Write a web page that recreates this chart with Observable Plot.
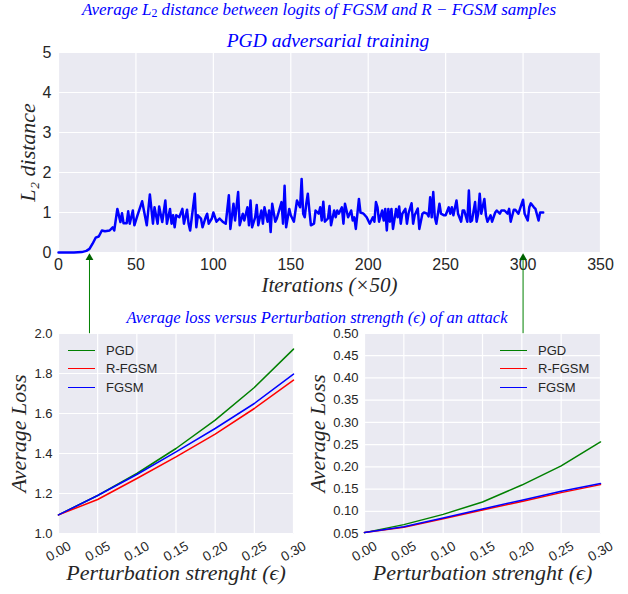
<!DOCTYPE html>
<html><head><meta charset="utf-8">
<script src="https://cdn.jsdelivr.net/npm/d3@7"></script>
<script src="https://cdn.jsdelivr.net/npm/@observablehq/plot@0.6"></script>
<style>
body{margin:0;background:#fff;}
#wrap{position:relative;width:628px;height:594px;overflow:hidden;font-family:"Liberation Sans",Arial,sans-serif;}
.ttl{position:absolute;color:#0000ff;font-family:"Liberation Serif",serif;font-style:italic;white-space:nowrap;transform:translate(-50%,-50%);line-height:1;}
.ttl sub{font-size:70%;font-style:normal;vertical-align:-0.25em;line-height:0;}
.leg{position:absolute;font-size:13px;color:#262626;line-height:1;}
.leg .row{height:18.5px;display:flex;align-items:center;}
.leg .sw{display:inline-block;width:27px;height:0;border-top:1.6px solid;margin-right:11px;}
</style></head>
<body><div id="wrap"></div>
<script>
// ---------- data ----------
const iterations = [0,5,10,15,18,20,22,24,26,28,30,33,35,36,38,40,41,42,44,45,46,48,49,51,54,56,57,59,61,62,64,65,67,69,70,72,73,74,75,76,78,80,81,83,84,85,86,88,89,90,92,93,95,96,97,99,100,102,104,106,108,110,111,113,114,116,117,119,120,122,123,124,125,127,128,129,131,132,133,135,136,137,138,140,141,144,145,146,147,149,150,152,154,156,157,158,159,160,161,162,163,165,166,168,169,170,171,172,174,175,176,178,179,180,181,183,184,185,187,189,190,191,192,194,195,197,199,201,203,204,205,206,207,209,210,211,212,213,214,215,216,218,219,220,221,222,224,225,226,228,229,230,232,233,235,236,238,239,240,241,242,243,244,246,247,249,250,252,253,254,255,257,258,260,261,262,264,265,266,267,269,270,271,272,273,275,276,277,279,280,282,283,285,286,288,290,291,292,294,295,297,298,300,301,303,304,305,307,308,310,311,313];
const l2Distance = [0,0,0,0.01,0.04,0.09,0.22,0.37,0.4,0.55,0.53,0.55,0.63,0.55,1.09,0.76,0.98,0.73,0.73,1.03,0.72,1.05,0.68,0.93,1.28,0.88,0.68,1.45,0.72,1.13,0.72,1.15,0.76,1.3,0.72,1.09,0.72,0.93,0.63,0.93,0.88,1.09,0.72,1.07,0.72,0.55,0.85,1.47,0.63,0.93,0.85,0.63,0.88,0.97,0.72,0.85,1.0,0.77,0.85,0.77,0.72,1.43,0.59,1.22,0.8,1.51,0.68,0.97,0.8,1.13,0.68,1.3,0.63,0.88,1.19,0.68,1.05,0.72,1.13,0.77,1.05,0.51,1.22,0.77,0.85,1.26,0.72,1.67,0.63,1.09,0.93,0.77,1.3,1.13,1.84,0.97,0.88,1.22,1.47,1.05,0.68,0.72,1.05,0.97,1.13,0.8,1.27,0.77,0.85,1.16,0.68,1.05,0.88,1.05,0.97,1.13,0.72,1.22,0.88,1.05,0.8,0.88,0.59,1.34,1.0,0.97,0.88,0.72,0.88,0.77,1.26,1.13,0.77,1.05,0.8,1.09,0.55,1.09,0.77,1.09,0.59,1.09,0.88,1.15,0.72,0.97,1.09,0.72,0.97,1.23,0.72,0.93,1.1,0.59,0.97,1.0,0.97,0.9,1.38,0.88,1.51,0.88,0.72,1.22,0.97,0.93,0.93,1.13,0.97,1.13,0.93,1.3,0.97,0.77,1.05,1.05,0.77,1.55,0.77,0.8,1.26,0.77,0.97,1.47,0.97,1.34,0.93,0.77,0.93,0.77,1.0,1.05,0.97,1.05,1.05,0.97,1.09,0.77,1.07,1.07,0.97,1.09,1.32,0.97,0.8,1.13,1.23,1.13,1.09,0.8,1.0,1.0];
const arrowIterations = [20, 300];

const epsilon = [0, 0.05, 0.10, 0.15, 0.20, 0.25, 0.30];
const seriesNames = ["PGD", "R-FGSM", "FGSM"];
const seriesColors = ["#008000", "#ff0000", "#0000ff"];
const leftPGD   = [1.093, 1.19, 1.30, 1.425, 1.567, 1.73, 1.922];
const leftRFGSM = [1.093, 1.17, 1.275, 1.383, 1.497, 1.625, 1.767];
const leftFGSM  = [1.093, 1.19, 1.295, 1.408, 1.525, 1.65, 1.797];
const rightPGD   = [0.052, 0.070, 0.093, 0.121, 0.159, 0.202, 0.256];
const rightRFGSM = [0.052, 0.064, 0.083, 0.103, 0.122, 0.142, 0.160];
const rightFGSM  = [0.052, 0.065, 0.085, 0.105, 0.125, 0.145, 0.1625];

const topXTicks = [0, 50, 100, 150, 200, 250, 300, 350];
const topYTicks = [0, 1, 2, 3, 4, 5];
const leftYTicks = [1.0, 1.2, 1.4, 1.6, 1.8, 2.0];
const rightYTicks = [0.05, 0.10, 0.15, 0.20, 0.25, 0.30, 0.35, 0.40, 0.45, 0.50];
const epsTicks = [0, 0.05, 0.10, 0.15, 0.20, 0.25, 0.30];

const mainTitle = 'Average L<sub>2</sub> distance between logits of FGSM and R − FGSM samples';
const topTitle = 'PGD adversarial training';
const midTitle = 'Average loss versus Perturbation strength (ϵ) of an attack';
const topXLabel = "Iterations (×50)";
const topYLabel = "L₂ distance";
const lossLabel = "Average Loss";
const epsLabel = "Perturbation strenght (ϵ)";

// ---------- helpers ----------
const BG = "#eaeaf2";
const INK = "#262626";
const SANS = "Liberation Sans, Arial, sans-serif";
const SERIF = "Liberation Serif, DejaVu Serif, serif";
const wrap = document.getElementById("wrap");
function place(el, left, top) {
  el.style.position = "absolute"; el.style.left = left + "px"; el.style.top = top + "px";
  wrap.appendChild(el);
}

function lossChart(pgd, rfgsm, fgsm, yDomain, yTicks, yFmt, marginLeft, width, yLabelDx) {
  const rows = [];
  [pgd, rfgsm, fgsm].forEach((arr, k) => epsilon.forEach((e, i) => rows.push({e, v: arr[i], s: seriesNames[k]})));
  return Plot.plot({
    width, height: 294, marginLeft, marginRight: 28, marginTop: 33, marginBottom: 61,
    style: {background: "transparent", fontSize: "13px", fontFamily: SANS, color: INK, overflow: "visible"},
    x: {domain: [0, 0.3], axis: null},
    y: {domain: yDomain, ticks: yTicks, tickFormat: d3.format(yFmt), tickSize: 0, tickPadding: 6, label: null},
    color: {domain: seriesNames, range: seriesColors},
    marks: [
      Plot.frame({fill: BG, stroke: null}),
      Plot.ruleX(epsTicks, {stroke: "white", strokeWidth: 1.2}),
      Plot.ruleY(yTicks, {stroke: "white", strokeWidth: 1.2}),
      Plot.line(rows, {x: "e", y: "v", z: "s", stroke: "s", strokeWidth: 1.5}),
      Plot.text(epsTicks, {x: d => d, y: yDomain[0], dy: 18, rotate: -30, text: d3.format(".2f"), textAnchor: "middle", fontSize: 13.5, fill: INK, fontFamily: SANS}),
      Plot.text([epsLabel], {text: d => d, frameAnchor: "bottom", dy: 46, textAnchor: "middle", fontSize: 22, fontStyle: "italic", fontFamily: SERIF, fill: INK}),
      Plot.text([lossLabel], {text: d => d, frameAnchor: "left", dx: yLabelDx, rotate: -90, textAnchor: "middle", fontSize: 22, fontStyle: "italic", fontFamily: SERIF, fill: INK})
    ]
  });
}

// bottom charts
place(lossChart(leftPGD, leftRFGSM, leftFGSM, [1.0, 2.0], leftYTicks, ".1f", 58, 321, -40), 0, 300);
place(lossChart(rightPGD, rightRFGSM, rightFGSM, [0.05, 0.5], rightYTicks, ".2f", 64, 328, -47), 300, 300);

// top chart (drawn over the others, transparent)
const topData = iterations.map((x, i) => ({x, y: l2Distance[i]}));
const topChart = Plot.plot({
  width: 628, height: 340, marginLeft: 58, marginRight: 28, marginTop: 52, marginBottom: 88,
  style: {background: "transparent", fontSize: "16px", fontFamily: SANS, color: INK, overflow: "visible"},
  x: {domain: [0, 350], ticks: topXTicks, tickFormat: d3.format("d"), tickSize: 0, tickPadding: 6, label: null},
  y: {domain: [0, 5], ticks: topYTicks, tickFormat: d3.format("d"), tickSize: 0, tickPadding: 7, label: null},
  marks: [
    Plot.frame({fill: BG, stroke: null}),
    Plot.ruleX(topXTicks, {stroke: "white", strokeWidth: 1.2}),
    Plot.ruleY(topYTicks, {stroke: "white", strokeWidth: 1.2}),
    Plot.line(topData, {x: "x", y: "y", stroke: "#0000ff", strokeWidth: 2.5, strokeLinejoin: "round"}),
    Plot.ruleX(arrowIterations, {x: d => d, y1: -2.03, y2: -0.2, stroke: "#008000", strokeWidth: 1}),
    Plot.dot(arrowIterations, {x: d => d, y: -0.13, symbol: "triangle", fill: "#006400", stroke: null, r: 2.9}),
    Plot.text([topXLabel], {text: d => d, frameAnchor: "bottom", dy: 39, textAnchor: "middle", fontSize: 21, fontStyle: "italic", fontFamily: SERIF, fill: INK}),
    Plot.text([topYLabel], {text: d => d, frameAnchor: "left", dx: -31, rotate: -90, textAnchor: "middle", fontSize: 22, fontStyle: "italic", fontFamily: SERIF, fill: INK})
  ]
});
place(topChart, 0, 0);

// titles
function title(html, cx, cy, size) {
  const d = document.createElement("div");
  d.className = "ttl"; d.innerHTML = html;
  d.style.left = cx + "px"; d.style.top = cy + "px"; d.style.fontSize = size + "px";
  wrap.appendChild(d);
}
title(mainTitle, 319, 9, 17);
title(topTitle, 328, 41, 19.5);
title(midTitle, 317, 318, 16.5);

// legends
function legend(left, top) {
  const d = document.createElement("div");
  d.className = "leg";
  seriesNames.forEach((n, i) => {
    const r = document.createElement("div"); r.className = "row";
    const s = document.createElement("span"); s.className = "sw"; s.style.borderColor = seriesColors[i];
    r.appendChild(s); r.appendChild(document.createTextNode(n));
    d.appendChild(r);
  });
  d.style.left = left + "px"; d.style.top = top + "px";
  wrap.appendChild(d);
}
legend(68, 341);
legend(500, 341);
</script>
</body></html>
